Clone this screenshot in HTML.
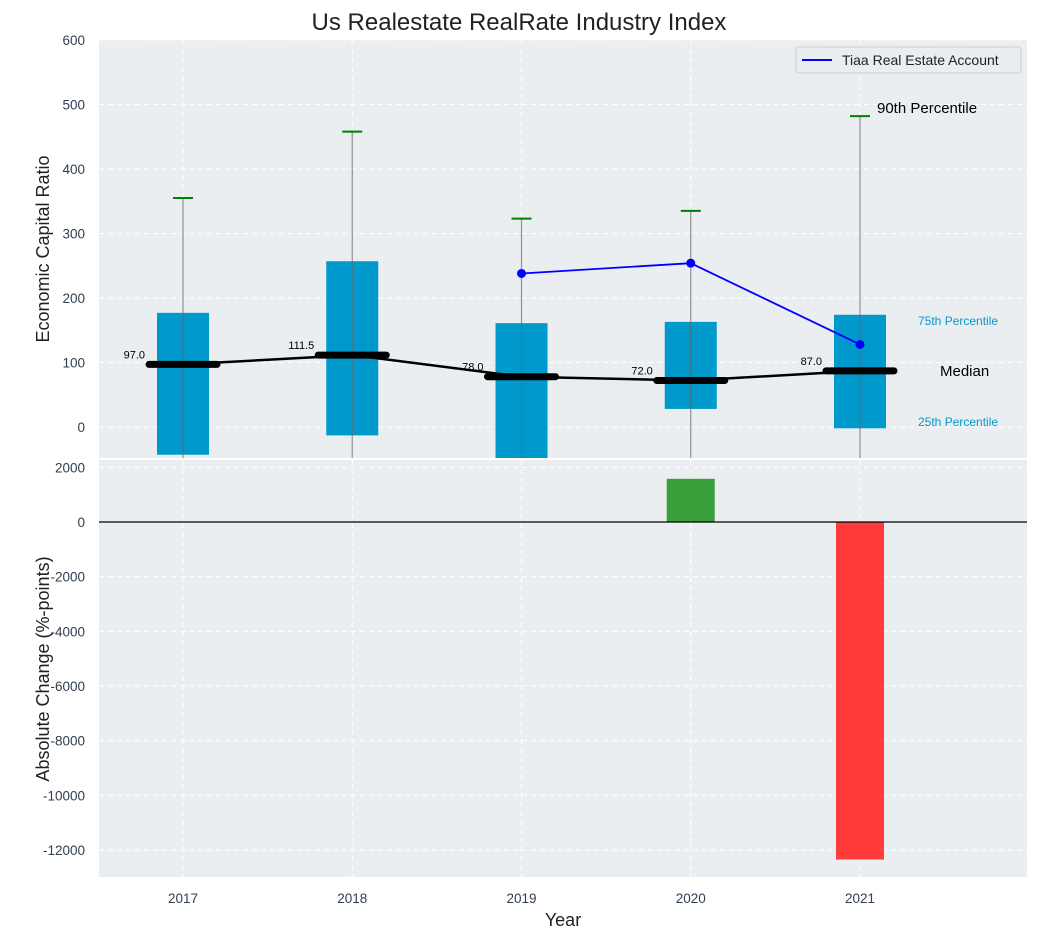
<!DOCTYPE html>
<html><head><meta charset="utf-8"><style>
body{margin:0;background:#fff;font-family:"Liberation Sans",sans-serif}
svg text{font-family:"Liberation Sans",sans-serif}
</style></head><body>
<svg id="c" width="1038" height="940" xmlns="http://www.w3.org/2000/svg"></svg>
<script>
const years=[2017,2018,2019,2020,2021];
const p25=[-43,-13,-50,28,-2];
const p75=[177,257,161,163,174];
const p90=[355,458,323,335,482];
const medians=[97,111.5,78,72,87];
const tiaaYears=[2019,2020,2021];
const tiaaVals=[238,254,128];
const changes=[0,0,0,1580,-12350];
const topTicks=[0,100,200,300,400,500,600];
const botTicks=[2000,0,-2000,-4000,-6000,-8000,-10000,-12000];

const svg=document.getElementById('c');
const NS='http://www.w3.org/2000/svg';
function el(t,a,txt){const e=document.createElementNS(NS,t);for(const k in a)e.setAttribute(k,a[k]);if(txt!==undefined)e.textContent=txt;svg.appendChild(e);return e;}
const L=99,R=1027;
const X=i=>183+i*169.25;
const Y1=v=>427-v*0.645;
const Y2=v=>522-v*0.02733;

let e;
e=el('rect',{x:L,y:40,width:R-L,height:418,fill:'#eaeef0'});


e=el('rect',{x:L,y:460,width:R-L,height:417,fill:'#eaeef0'});



topTicks.forEach(t=>{
  el('line',{x1:L,x2:R,y1:Y1(t),y2:Y1(t),stroke:'#fff','stroke-dasharray':'5,4','stroke-width':1});
  e=el('text',{x:85,y:Y1(t)+5,'text-anchor':'end','font-size':13.5,fill:'#2f3e52'},t);
  
  
});
botTicks.forEach(t=>{
  el('line',{x1:L,x2:R,y1:Y2(t),y2:Y2(t),stroke:'#fff','stroke-dasharray':'5,4','stroke-width':1});
  e=el('text',{x:85,y:Y2(t)+5,'text-anchor':'end','font-size':13.5,fill:'#2f3e52'},t);
  
  
});
years.forEach((y,i)=>{
  el('line',{x1:X(i),x2:X(i),y1:40,y2:458,stroke:'#fff','stroke-dasharray':'5,4'});
  el('line',{x1:X(i),x2:X(i),y1:460,y2:877,stroke:'#fff','stroke-dasharray':'5,4'});
  e=el('text',{x:X(i),y:903,'text-anchor':'middle','font-size':13.5,fill:'#2f3e52'},y);
  
  
});

const clipTop=458;
years.forEach((y,i)=>{
  const yt=Y1(p75[i]),yb=Math.min(Y1(p25[i]),clipTop);
  e=el('rect',{x:X(i)-26,y:yt,width:52,height:yb-yt,fill:'#0099cc'});
  
  
  e=el('line',{x1:X(i),x2:X(i),y1:Y1(p90[i]),y2:clipTop,stroke:'#666','stroke-width':1.2,opacity:0.7});
  
  
  e=el('line',{x1:X(i)-10,x2:X(i)+10,y1:Y1(p90[i]),y2:Y1(p90[i]),stroke:'green','stroke-width':2});
  
  
});
e=el('polyline',{points:medians.map((m,i)=>X(i)+','+Y1(m)).join(' '),fill:'none',stroke:'#000','stroke-width':2.5});


medians.forEach((m,i)=>{
  e=el('line',{x1:X(i)-34,x2:X(i)+34,y1:Y1(m),y2:Y1(m),stroke:'#000','stroke-width':7,'stroke-linecap':'round'});
  
  
  e=el('text',{x:X(i)-38,y:Y1(m)-6,'text-anchor':'end','font-size':11,fill:'#000'},m.toFixed(1));
  
  
});
const tx=tiaaYears.map(y=>X(years.indexOf(y)));
e=el('polyline',{points:tiaaVals.map((v,k)=>tx[k]+','+Y1(v)).join(' '),fill:'none',stroke:'blue','stroke-width':1.8});


tiaaVals.forEach((v,k)=>{
  e=el('circle',{cx:tx[k],cy:Y1(v),r:4.5,fill:'blue'});
  
  
});
const last=years.length-1;
e=el('text',{x:X(last)+17,y:Y1(p90[last])-3,'font-size':15,fill:'#000'},'90th Percentile');

e=el('text',{x:918,y:325,'font-size':12,fill:'#0099cc'},'75th Percentile');

e=el('text',{x:918,y:426,'font-size':12,fill:'#0099cc'},'25th Percentile');

e=el('text',{x:940,y:Y1(medians[last])+5,'font-size':15,fill:'#000'},'Median');


e=el('rect',{x:796,y:47,width:225,height:26,rx:3,fill:'#eaeef0',stroke:'#ccc'});

el('line',{x1:802,x2:832,y1:60,y2:60,stroke:'blue','stroke-width':2});
e=el('text',{x:842,y:65,'font-size':14,fill:'#222'},'Tiaa Real Estate Account');


changes.forEach((c,i)=>{
  if(c===0)return;
  const y0=Y2(0),y1=Y2(c);
  e=el('rect',{x:X(i)-24,y:Math.min(y0,y1),width:48,height:Math.abs(y1-y0),fill:c>0?'#3a9e3a':'#ff3b3b'});
  
  
});
el('line',{x1:L,x2:R,y1:Y2(0),y2:Y2(0),stroke:'#000','stroke-width':1.2});

e=el('text',{x:519,y:30,'text-anchor':'middle','font-size':24,fill:'#222'},'Us Realestate RealRate Industry Index');

e=el('text',{x:49,y:249,'text-anchor':'middle','font-size':18,fill:'#222',transform:'rotate(-90 49 249)'},'Economic Capital Ratio');

e=el('text',{x:49,y:669,'text-anchor':'middle','font-size':18,fill:'#222',transform:'rotate(-90 49 669)'},'Absolute Change (%-points)');

e=el('text',{x:563,y:926,'text-anchor':'middle','font-size':18,fill:'#222'},'Year');

</script>
</body></html>
